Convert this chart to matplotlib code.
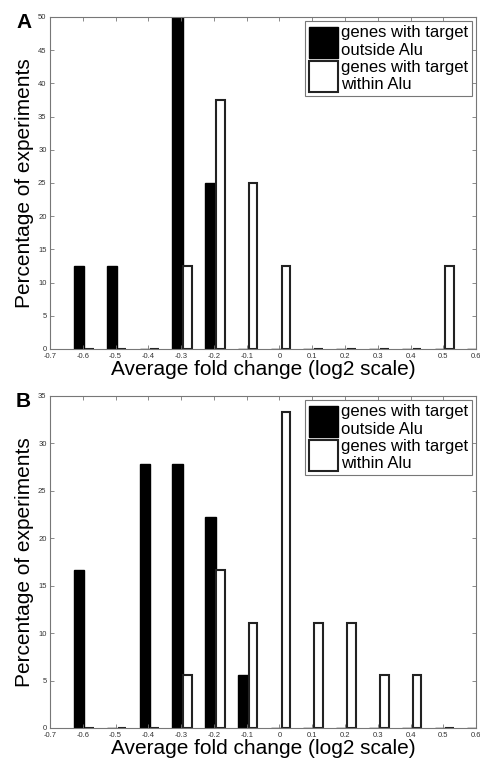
import matplotlib.pyplot as plt
import numpy as np

plt.rcParams["font.family"] = ["Liberation Sans", "DejaVu Sans"]

BIN_CENTERS = [-0.6, -0.5, -0.4, -0.3, -0.2, -0.1, 0.0, 0.1, 0.2, 0.3, 0.4, 0.5, 0.6]

# panel A
A_OUTSIDE = [12.5, 12.5, 0, 50, 25, 0, 0, 0, 0, 0, 0, 0, 0]
A_WITHIN = [0, 0, 0, 12.5, 37.5, 25, 12.5, 0, 0, 0, 0, 12.5, 0]

# panel B
B_OUTSIDE = [16.67, 0, 27.78, 27.78, 22.22, 5.56, 0, 0, 0, 0, 0, 0, 0]
B_WITHIN = [0, 0, 0, 5.56, 16.67, 11.11, 33.33, 11.11, 11.11, 5.56, 5.56, 0, 0]

X_TICKS = [-0.7, -0.6, -0.5, -0.4, -0.3, -0.2, -0.1, 0, 0.1, 0.2, 0.3, 0.4, 0.5, 0.6]
X_TICK_LABELS = ["-0.7", "-0.6", "-0.5", "-0.4", "-0.3", "-0.2", "-0.1", "0",
                 "0.1", "0.2", "0.3", "0.4", "0.5", "0.6"]

LABEL_OUT = "genes with target\noutside Alu"
LABEL_IN = "genes with target\nwithin Alu"


def draw_panel(ax, outside, within, ymax, letter):
    x = np.array(BIN_CENTERS)
    ax.bar(x - 0.011, outside, width=0.032, color="black", edgecolor="black",
           linewidth=1.0, label=LABEL_OUT)
    ax.bar(x + 0.0195, within, width=0.0265, color="white", edgecolor="#222222",
           linewidth=1.5, label=LABEL_IN)

    ax.set_xlim(-0.7, 0.6)
    ax.set_ylim(0, ymax)
    ax.set_xticks(X_TICKS)
    ax.set_xticklabels(X_TICK_LABELS)
    ax.set_yticks(np.arange(0, ymax + 1, 5))
    ax.tick_params(direction="in", length=3, width=0.6, top=True, right=True,
                   labelsize=5.5, labelcolor="#333333", color="#777777")
    ax.tick_params(axis="x", pad=3)
    ax.tick_params(axis="y", pad=2.5)
    for s in ax.spines.values():
        s.set_color("#777777")
        s.set_linewidth(0.8)

    ax.set_xlabel("Average fold change (log2 scale)", fontsize=15, labelpad=0)
    ax.set_ylabel("Percentage of experiments", fontsize=15, labelpad=3)

    leg = ax.legend(loc="upper right", fontsize=12, handlelength=1.74,
                    handleheight=2.48, handletextpad=0.15, borderpad=0.25,
                    labelspacing=0.1, fancybox=False, framealpha=1,
                    borderaxespad=0.25)
    leg.get_frame().set_edgecolor("#777777")
    leg.get_frame().set_linewidth(0.8)

    ax.text(-0.062, 1.012, letter, transform=ax.transAxes, fontsize=15,
            fontweight="bold", ha="center", va="top")


def main():
    fig = plt.figure(figsize=(4.81, 7.65), dpi=100)
    ax_a = fig.add_axes([0.104, 0.5438, 0.886, 0.434])
    ax_b = fig.add_axes([0.104, 0.0484, 0.886, 0.434])

    draw_panel(ax_a, A_OUTSIDE, A_WITHIN, 50, "A")
    draw_panel(ax_b, B_OUTSIDE, B_WITHIN, 35, "B")

    fig.savefig("out.png", dpi=100)
    plt.close(fig)


if __name__ == "__main__":
    main()
